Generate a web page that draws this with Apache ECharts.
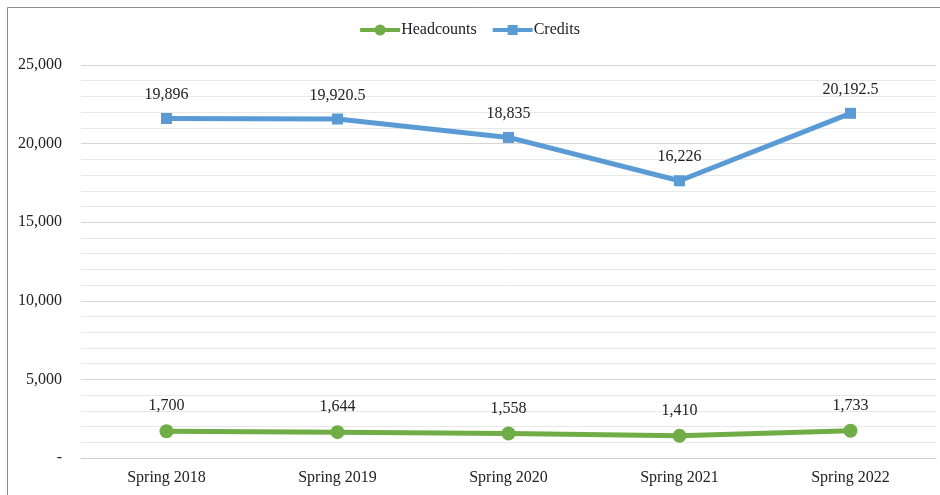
<!DOCTYPE html>
<html>
<head>
<meta charset="utf-8">
<script src="https://cdn.jsdelivr.net/npm/echarts@6/dist/echarts.min.js"></script>
<style>html,body{margin:0;padding:0;background:#fff;}#c{width:940px;height:495px;}</style>
</head>
<body>
<div id="c"></div>
<script>
const categories = ['Spring 2018', 'Spring 2019', 'Spring 2020', 'Spring 2021', 'Spring 2022'];
const headcounts = [1700, 1644, 1558, 1410, 1733];
const credits = [19896, 19920.5, 18835, 16226, 20192.5];
const yTicks = [0, 5000, 10000, 15000, 20000, 25000];

const FONT = '"Liberation Serif", "DejaVu Serif", serif';
const fmt = v => v === 0 ? '-' : v.toLocaleString('en-US');

const chart = echarts.init(document.getElementById('c'), null, {renderer: 'canvas'});
chart.setOption({
  animation: false,
  backgroundColor: '#fff',
  textStyle: {fontFamily: FONT},
  graphic: [{
    type: 'polyline',
    shape: {points: [[7.5, 495], [7.5, 7.5], [940, 7.5]]},
    style: {stroke: '#8c8c8c', lineWidth: 1, fill: null},
    silent: true
  }],
  legend: {
    top: 17,
    left: 'center',
    itemWidth: 40,
    itemHeight: 12,
    itemGap: 16,
    textStyle: {fontFamily: FONT, fontSize: 16, color: '#222', padding: [0, 0, 0, -4]},
    data: [
      {name: 'Headcounts', icon: 'path://M0,4 L16,4 L16,8 L0,8 Z M24,4 L40,4 L40,8 L24,8 Z M14.5,6 A5.5,5.5 0 1 1 25.5,6 A5.5,5.5 0 1 1 14.5,6 Z'},
      {name: 'Credits', icon: 'path://M0,4 L15,4 L15,1 L25,1 L25,4 L40,4 L40,8 L25,8 L25,11 L15,11 L15,8 L0,8 Z'}
    ]
  },
  grid: {left: 81, right: 4, top: 65, bottom: 37, containLabel: false},
  xAxis: {
    type: 'category',
    data: categories,
    boundaryGap: true,
    axisLine: {show: true, lineStyle: {color: '#d0d0d0', width: 1}},
    axisTick: {show: false},
    axisLabel: {fontFamily: FONT, fontSize: 16, color: '#222', margin: 12}
  },
  yAxis: {
    type: 'value',
    min: yTicks[0],
    max: yTicks[yTicks.length - 1],
    interval: 5000,
    axisLine: {show: false},
    axisTick: {show: false},
    axisLabel: {fontFamily: FONT, fontSize: 16, color: '#222', margin: 19, formatter: fmt},
    splitLine: {show: true, lineStyle: {color: '#d4d4d4', width: 1}},
    minorTick: {show: false, splitNumber: 5},
    minorSplitLine: {show: true, lineStyle: {color: '#e8e8e8', width: 1}}
  },
  series: [
    {
      name: 'Headcounts',
      type: 'line',
      stack: 'total',
      data: headcounts,
      symbol: 'circle',
      symbolSize: 14,
      color: '#70AD47',
      lineStyle: {width: 5, color: '#70AD47'},
      itemStyle: {color: '#70AD47'},
      label: {show: true, position: 'top', distance: 10, fontFamily: FONT, fontSize: 16, color: '#222', formatter: p => fmt(p.value)}
    },
    {
      name: 'Credits',
      type: 'line',
      stack: 'total',
      data: credits,
      symbol: 'rect',
      symbolSize: 11,
      color: '#5B9BD5',
      lineStyle: {width: 5, color: '#5B9BD5'},
      itemStyle: {color: '#5B9BD5'},
      label: {show: true, position: 'top', distance: 10, fontFamily: FONT, fontSize: 16, color: '#222', formatter: p => fmt(p.value)}
    }
  ]
});
</script>
</body>
</html>
